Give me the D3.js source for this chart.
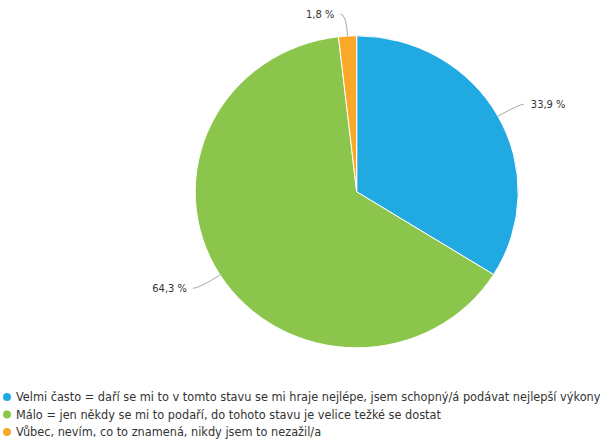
<!DOCTYPE html>
<html>
<head>
<meta charset="utf-8">
<script src="https://cdn.jsdelivr.net/npm/d3@7"></script>
<style>
  html, body { margin: 0; padding: 0; background: #fff; }
  svg { display: block; }
  text { font-family: "DejaVu Sans Condensed", "DejaVu Sans", sans-serif; fill: #333; }
</style>
</head>
<body>
<svg id="chart" width="600" height="443"></svg>
<script>
// Answers to the survey question, share of respondents in percent
const categories = [
  "Velmi často = daří se mi to v tomto stavu se mi hraje nejlépe, jsem schopný/á podávat nejlepší výkony",
  "Málo = jen někdy se mi to podaří, do tohoto stavu je velice težké se dostat",
  "Vůbec, nevím, co to znamená, nikdy jsem to nezažil/a"
];
const values = [33.9, 64.3, 1.8];
const valueLabels = ["33,9 %", "64,3 %", "1,8 %"];
const colors = ["#21a9e1", "#8cc54b", "#fba829"];

const svg = d3.select("#chart");
const cx = 356.7, cy = 191.8;
const rx = 161.5, ry = 156;

const pie = d3.pie().sort(null).value(d => d)(values);
const arc = d3.arc().innerRadius(0).outerRadius(rx);

// Slices (drawn as a circle, squeezed slightly in height)
svg.append("g")
  .attr("transform", `translate(${cx},${cy}) scale(1,${ry / rx})`)
  .selectAll("path")
  .data(pie)
  .join("path")
  .attr("d", arc)
  .attr("fill", (d, i) => colors[i])
  .attr("stroke", "#fff")
  .attr("stroke-width", 1)
  .attr("vector-effect", "non-scaling-stroke");

// Value labels with connector lines
const dist = [25, 25, 22];
const labels = svg.append("g");
pie.forEach((d, i) => {
  const a = (d.startAngle + d.endAngle) / 2;
  const sx = Math.sin(a), sy = -Math.cos(a);
  const edge = [cx + rx * sx, cy + ry * sy];
  const knee = [edge[0] + dist[i] * sx, edge[1] + dist[i] * sy];
  const right = sx >= 0;
  const end = [knee[0] + (right ? 4 : -6), knee[1]];
  labels.append("path")
    .attr("d", `M${edge[0]},${edge[1]} Q${knee[0]},${knee[1]} ${end[0]},${end[1]}`)
    .attr("fill", "none")
    .attr("stroke", "#a8a8a8")
    .attr("stroke-width", 1);
  labels.append("text")
    .attr("x", end[0] + (right ? 7 : -6))
    .attr("y", end[1])
    .attr("dy", "0.35em")
    .attr("font-size", 11)
    .attr("text-anchor", right ? "start" : "end")
    .text(valueLabels[i]);
});

// Legend
const legend = svg.append("g");
const rowY = d3.scalePoint().domain(d3.range(categories.length)).range([397, 432]);
categories.forEach((c, i) => {
  const y = rowY(i);
  legend.append("circle").attr("cx", 7).attr("cy", y).attr("r", 4).attr("fill", colors[i]);
  legend.append("text")
    .attr("x", 16)
    .attr("y", y)
    .attr("dy", "0.35em")
    .attr("font-size", 12.6)
    .text(c);
});
</script>
</body>
</html>
